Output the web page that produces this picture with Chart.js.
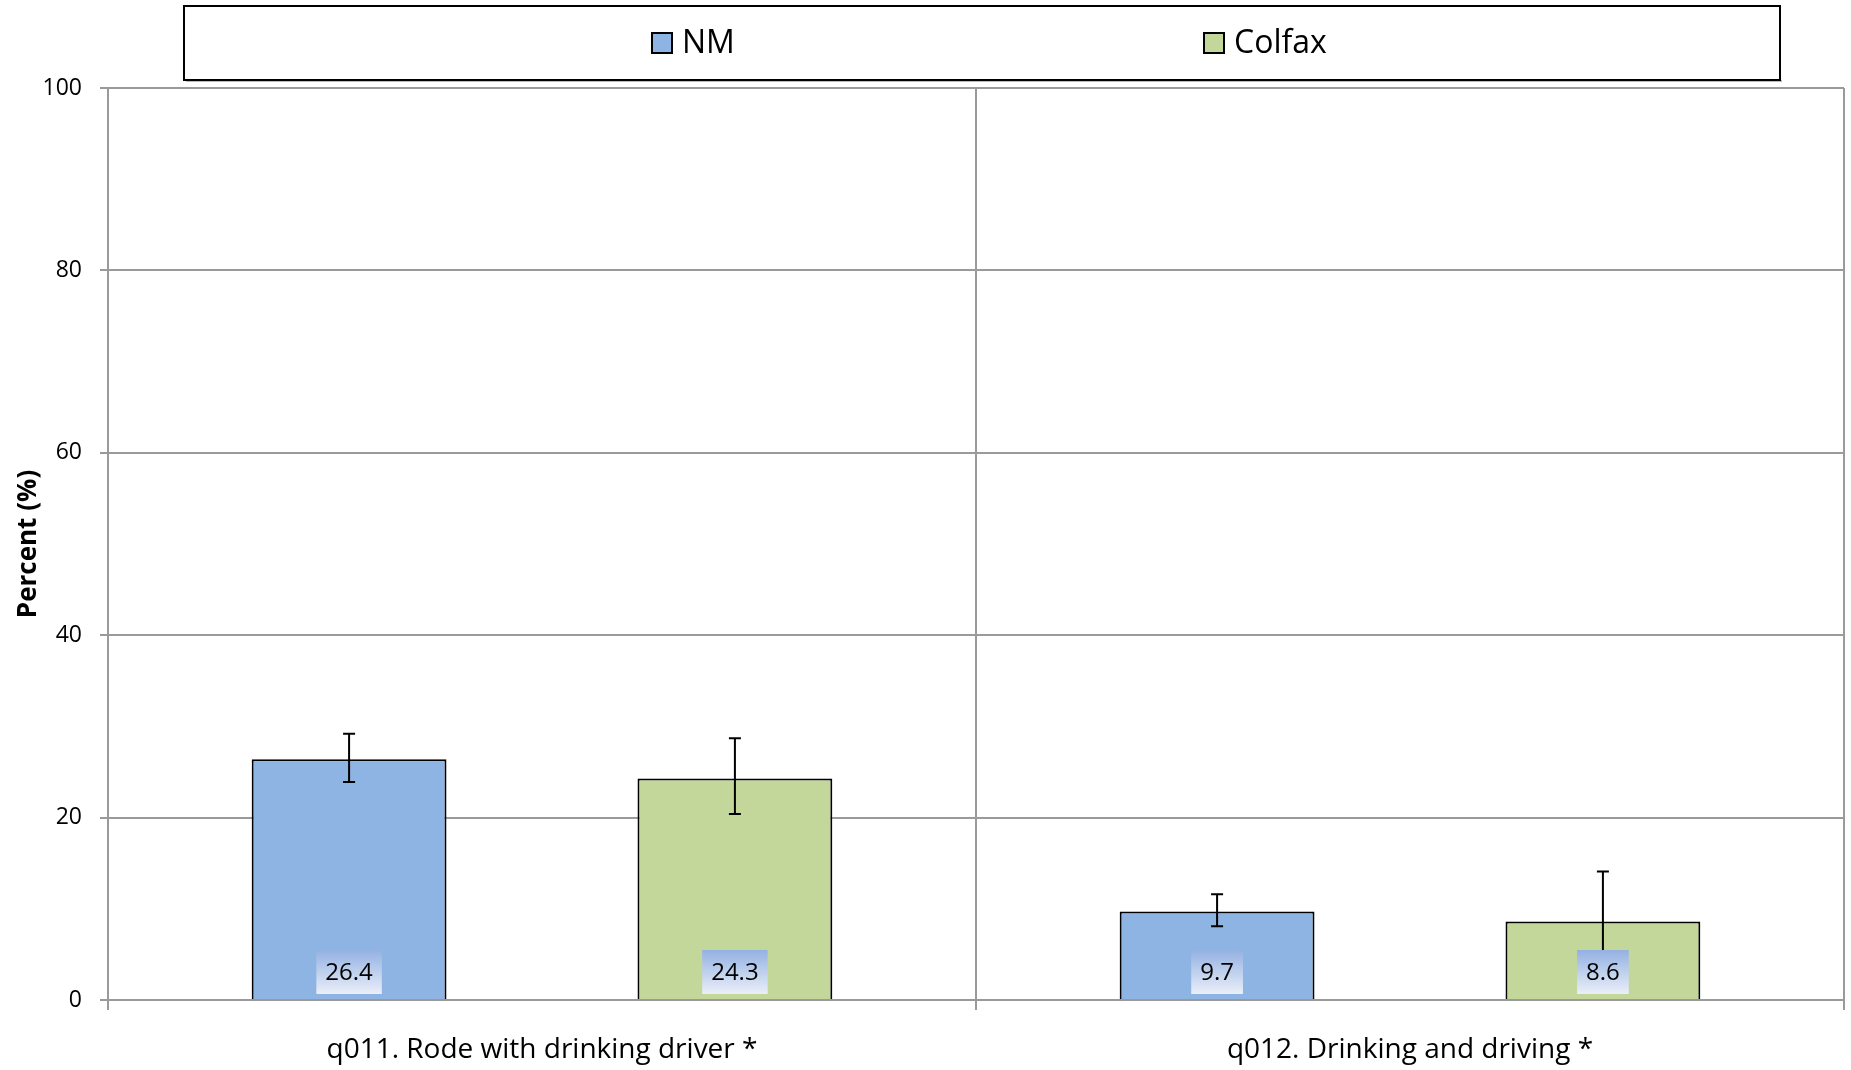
<!DOCTYPE html>
<html lang="en">
<head>
  <meta charset="UTF-8">
  <title>Rode with drinking driver / Drinking and driving</title>
  <script src="https://cdn.jsdelivr.net/npm/chart.js"></script>
  <style>
    body { margin: 0; background: #fff; }
    #wrap { width: 1851px; height: 1070px; }
  </style>
</head>
<body>
  <div id="wrap"><canvas id="chart" width="1851" height="1070"></canvas></div>
  <script>
    const categories = ['q011. Rode with drinking driver *', 'q012. Drinking and driving *'];
    const seriesNames = ['NM', 'Colfax'];
    const nmValues = [26.4, 9.7];
    const colfaxValues = [24.3, 8.6];
    // confidence intervals
    const nmLow = [23.9, 8.1];
    const nmHigh = [29.2, 11.6];
    const colfaxLow = [20.4, 3.1];
    const colfaxHigh = [28.7, 14.1];

    const FONT = "'Open Sans', 'DejaVu Sans', sans-serif";
    const GRID = '#9a9a9a';

    // error bars drawn on top of the bars
    const errorBars = {
      id: 'errorBars',
      afterDatasetsDraw(chart) {
        const ctx = chart.ctx;
        const y = chart.scales.y;
        chart.data.datasets.forEach((ds, di) => {
          const meta = chart.getDatasetMeta(di);
          meta.data.forEach((bar, i) => {
            const top = y.getPixelForValue(ds.high[i]);
            const bot = y.getPixelForValue(ds.low[i]);
            ctx.save();
            ctx.strokeStyle = '#000';
            ctx.lineWidth = 2;
            ctx.beginPath();
            ctx.moveTo(bar.x, top); ctx.lineTo(bar.x, bot);
            ctx.moveTo(bar.x - 6, top); ctx.lineTo(bar.x + 6, top);
            ctx.moveTo(bar.x - 6, bot); ctx.lineTo(bar.x + 6, bot);
            ctx.stroke();
            ctx.restore();
          });
        });
      }
    };

    // value boxes at the foot of each bar
    const valueLabels = {
      id: 'valueLabels',
      afterDatasetsDraw(chart) {
        const ctx = chart.ctx;
        const y = chart.scales.y;
        const base = y.getPixelForValue(0);
        chart.data.datasets.forEach((ds, di) => {
          const meta = chart.getDatasetMeta(di);
          meta.data.forEach((bar, i) => {
            const text = ds.data[i].toFixed(1);
            ctx.save();
            ctx.font = '24px ' + FONT;
            const w = ctx.measureText(text).width + 18;
            const h = 44;
            const bottom = base - 6;
            const g = ctx.createLinearGradient(0, bottom - h, 0, bottom);
            g.addColorStop(0, '#93b1e2');
            g.addColorStop(1, '#eaeff8');
            ctx.fillStyle = g;
            ctx.fillRect(bar.x - w / 2, bottom - h, w, h);
            ctx.fillStyle = '#000';
            ctx.textAlign = 'center';
            ctx.textBaseline = 'middle';
            ctx.fillText(text, bar.x, bottom - h / 2 + 1);
            ctx.restore();
          });
        });
      }
    };

    // framed legend across the top
    const boxLegend = {
      id: 'boxLegend',
      afterDraw(chart) {
        const ctx = chart.ctx;
        ctx.save();
        ctx.fillStyle = '#bbb';
        ctx.fillRect(186, 80, 1596, 2);
        ctx.strokeStyle = '#000';
        ctx.lineWidth = 2;
        ctx.strokeRect(184, 6, 1596, 74);
        const xs = [652, 1204];
        ctx.font = '32px ' + FONT;
        ctx.textBaseline = 'middle';
        chart.data.datasets.forEach((ds, i) => {
          ctx.fillStyle = ds.backgroundColor;
          ctx.fillRect(xs[i], 33, 20, 20);
          ctx.strokeRect(xs[i], 33, 20, 20);
          ctx.fillStyle = '#000';
          ctx.fillText(ds.label, xs[i] + 30, 44);
        });
        ctx.restore();
      }
    };

    new Chart(document.getElementById('chart'), {
      type: 'bar',
      data: {
        labels: categories,
        datasets: [
          { label: seriesNames[0], data: nmValues, low: nmLow, high: nmHigh,
            backgroundColor: '#8eb4e3', borderColor: '#000', borderWidth: 2 },
          { label: seriesNames[1], data: colfaxValues, low: colfaxLow, high: colfaxHigh,
            backgroundColor: '#c4d79b', borderColor: '#000', borderWidth: 2 }
        ]
      },
      options: {
        responsive: false,
        animation: false,
        layout: { padding: { top: 88, right: 7, left: 0, bottom: 0 } },
        datasets: { bar: { categoryPercentage: 0.889, barPercentage: 0.505 } },
        plugins: {
          legend: { display: false },
          tooltip: { enabled: false }
        },
        scales: {
          x: {
            afterFit(s) { s.height = 70; },
            grid: { color: GRID, lineWidth: 2, tickLength: 10, offset: true },
            border: { color: GRID, width: 2 },
            ticks: { color: '#000', font: { family: FONT, size: 28 }, padding: 23 }
          },
          y: {
            min: 0, max: 100,
            afterFit(s) { s.width = 108; },
            grid: { color: GRID, lineWidth: 2, tickLength: 8 },
            border: { color: GRID, width: 2 },
            ticks: { stepSize: 20, color: '#000', font: { family: FONT, size: 23 }, padding: 18 },
            title: {
              display: true, text: 'Percent (%)', color: '#000',
              font: { family: FONT, size: 26, weight: 'bold' },
              padding: { top: 13, bottom: 0 }
            }
          }
        }
      },
      plugins: [errorBars, valueLabels, boxLegend]
    });
  </script>
</body>
</html>
